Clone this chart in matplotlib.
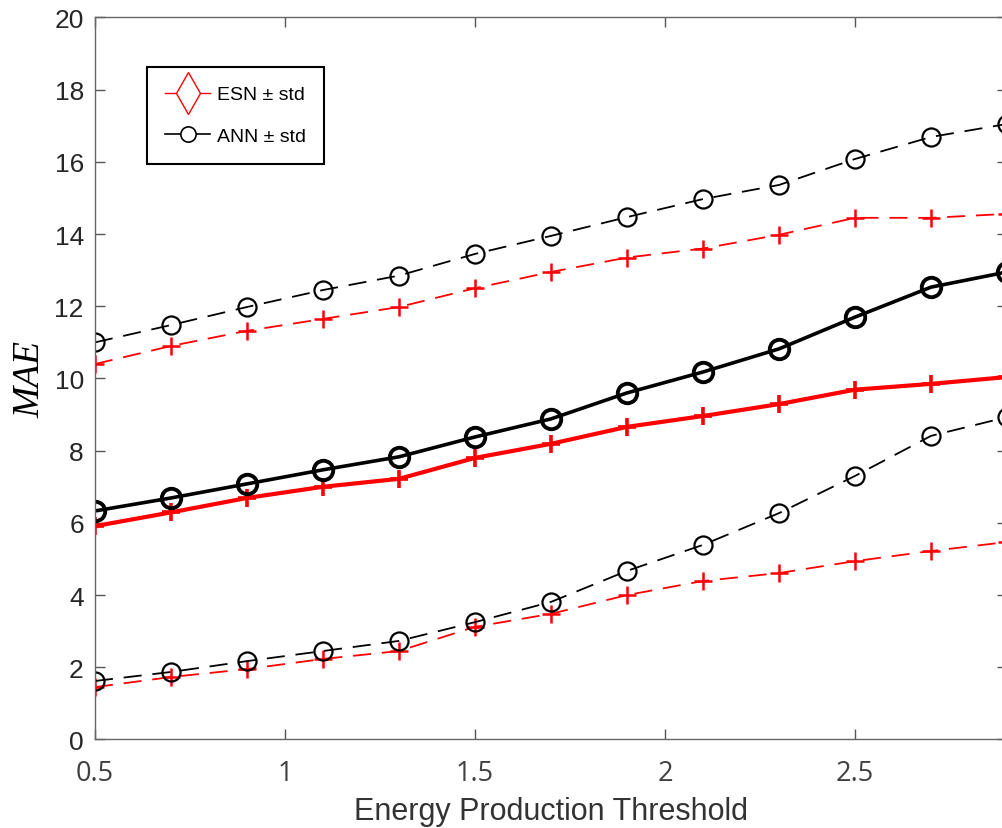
import matplotlib
matplotlib.use("Agg")
import matplotlib.pyplot as plt
from matplotlib.lines import Line2D
import numpy as np

# energy production thresholds
thresholds = [0.5, 0.7, 0.9, 1.1, 1.3, 1.5, 1.7, 1.9, 2.1, 2.3, 2.5, 2.7, 2.9]

# ANN: mean MAE and the +/- std band
ann_mean = [6.33, 6.69, 7.08, 7.47, 7.83, 8.38, 8.88, 9.60, 10.18, 10.82, 11.70, 12.53, 12.95]
ann_upper = [11.00, 11.48, 11.98, 12.45, 12.85, 13.45, 13.95, 14.47, 14.97, 15.36, 16.08, 16.69, 17.05]
ann_lower = [1.62, 1.87, 2.17, 2.45, 2.73, 3.25, 3.81, 4.67, 5.39, 6.27, 7.30, 8.41, 8.93]

# ESN: mean MAE and the +/- std band
esn_mean = [5.91, 6.29, 6.69, 7.00, 7.22, 7.80, 8.19, 8.66, 8.96, 9.29, 9.69, 9.85, 10.04]
esn_upper = [10.40, 10.90, 11.32, 11.65, 11.98, 12.50, 12.95, 13.35, 13.60, 13.98, 14.45, 14.45, 14.56]
esn_lower = [1.45, 1.73, 1.95, 2.23, 2.45, 3.12, 3.48, 4.00, 4.39, 4.61, 4.94, 5.22, 5.47]

x_ticks = [0.5, 1, 1.5, 2, 2.5]
x_ticklabels = ["0.5", "1", "1.5", "2", "2.5"]
y_ticks = [0, 2, 4, 6, 8, 10, 12, 14, 16, 18, 20]

fig = plt.figure(figsize=(10.03, 8.29), dpi=100)
ax = fig.add_axes([0.0947, 0.1068, 0.9093, 0.8709])

x = np.array(thresholds)
dash = (0, (10, 6))

# std bands (thin dashed)
ax.plot(x, esn_upper, color="red", lw=1.3, ls=dash, marker="+", ms=13, mew=1.8)
ax.plot(x, esn_lower, color="red", lw=1.3, ls=dash, marker="+", ms=13, mew=1.8)
ax.plot(x, ann_upper, color="black", lw=1.3, ls=dash, marker="o", ms=13,
        mfc="none", mew=1.6)
ax.plot(x, ann_lower, color="black", lw=1.3, ls=dash, marker="o", ms=13,
        mfc="none", mew=1.6)

# means (thick solid)
ax.plot(x, esn_mean, color="red", lw=3, marker="+", ms=13, mew=2.6)
ax.plot(x, ann_mean, color="black", lw=2.6, marker="o", ms=14,
        mfc="none", mew=2.8)

ax.set_xlim(0.5, 2.9)
ax.set_ylim(0, 20)
ax.set_xticks(x_ticks)
ax.set_xticklabels(x_ticklabels, fontfamily="Open Sans", color="#404040")
ax.set_yticks(y_ticks)

ax.tick_params(axis="both", direction="in", length=7, width=1, color="#555555",
               top=True, right=True)
ax.tick_params(axis="x", labelsize=19.5, pad=14)
ax.tick_params(axis="y", labelsize=19, pad=8, labelcolor="#262626")
for lab in ax.get_yticklabels():
    lab.set_fontfamily("Liberation Sans")
for s in ax.spines.values():
    s.set_color("#666666")
    s.set_linewidth(1)

ax.set_xlabel("Energy Production Threshold", fontfamily="Liberation Sans",
              fontsize=22, color="#333333")
ax.xaxis.set_label_coords(0.5, -0.079)
ax.set_ylabel("MAE", fontfamily="Liberation Serif", fontstyle="italic",
              fontsize=27, color="black")
ax.yaxis.set_label_coords(-0.052, 0.5)

handles = [
    Line2D([], [], color="red", lw=1, marker="d", ms=21, mfc="white",
           mec="red", mew=1),
    Line2D([], [], color="black", lw=1.2, marker="o", ms=11, mfc="white",
           mec="black", mew=1.2),
]
leg = ax.legend(handles, ["ESN \u00b1 std", "ANN \u00b1 std"],
                loc="upper left", bbox_to_anchor=(0.057, 0.931),
                borderaxespad=0, fancybox=False, framealpha=1,
                edgecolor="black", handlelength=2.3, handletextpad=0.35,
                borderpad=0.95, labelspacing=1.25,
                prop={"family": "Liberation Sans", "size": 14})
leg.get_frame().set_linewidth(1.5)

fig.savefig("out.png", dpi=100)
